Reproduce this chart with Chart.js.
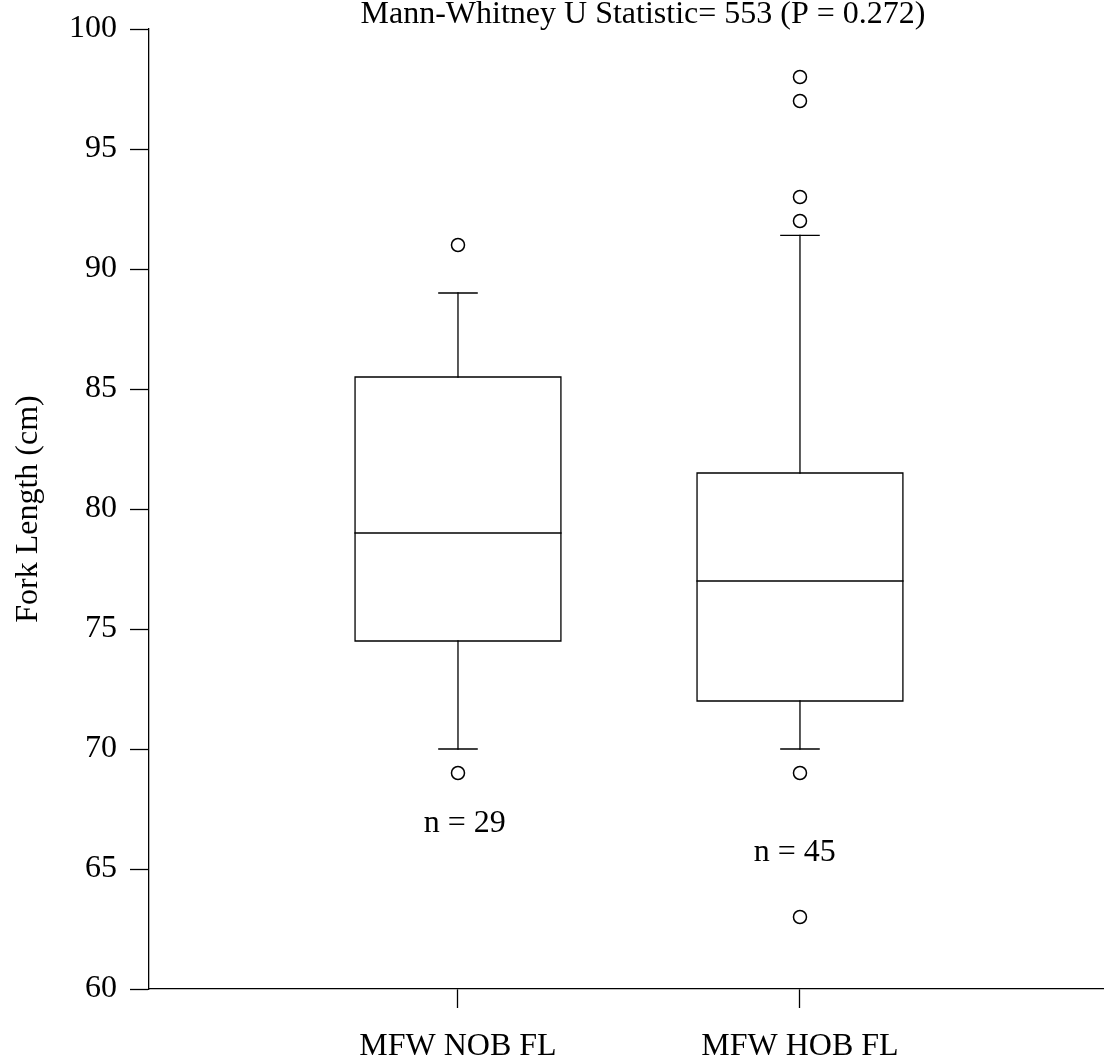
<!DOCTYPE html>
<html>
<head>
<meta charset="utf-8">
<script src="https://cdn.jsdelivr.net/npm/chart.js@4.4.0/dist/chart.umd.min.js"></script>
<style>
  html, body { margin: 0; padding: 0; background: #fff; overflow: hidden; }
  #wrap { width: 1104px; height: 1063px; }
  canvas { display: block; }
</style>
</head>
<body>
<div id="wrap"><canvas id="chart" width="1104" height="1063"></canvas></div>
<script>
// box plot summary
const categories = ['MFW NOB FL', 'MFW HOB FL'];
const catPos = [1, 2];
const whiskerLow = [70, 70];
const q1 = [74.5, 72];
const median = [79, 77];
const q3 = [85.5, 81.5];
const whiskerHigh = [89, 91.4];
const outliers = [[91, 69], [98, 97, 93, 92, 69, 63]];
const sampleSizes = [29, 45];
const yTicks = [60, 65, 70, 75, 80, 85, 90, 95, 100];
const titleText = 'Mann-Whitney U Statistic= 553 (P = 0.272)';
const yTitle = 'Fork Length (cm)';

const FONT = { family: "'Liberation Serif', 'Times New Roman', serif", size: 32 };
const INK = '#000';
const LW = 1.3;
const boxHalf = 0.301, capHalf = 0.056;
const nLabelAt = [[1.02, 66.9], [1.985, 65.7]];

function seg(points) {
  return {
    type: 'scatter', data: points, showLine: true, pointRadius: 0, pointHoverRadius: 0,
    borderColor: INK, borderWidth: LW, borderJoinStyle: 'miter', borderCapStyle: 'square', fill: false
  };
}

const datasets = [];
catPos.forEach(function(c, i) {
  datasets.push(seg([
    { x: c - boxHalf, y: q1[i] }, { x: c + boxHalf, y: q1[i] },
    { x: c + boxHalf, y: q3[i] }, { x: c - boxHalf, y: q3[i] }, { x: c - boxHalf, y: q1[i] }
  ]));
  datasets.push(seg([{ x: c - boxHalf, y: median[i] }, { x: c + boxHalf, y: median[i] }]));
  datasets.push(seg([{ x: c, y: q3[i] }, { x: c, y: whiskerHigh[i] }]));
  datasets.push(seg([{ x: c - capHalf, y: whiskerHigh[i] }, { x: c + capHalf, y: whiskerHigh[i] }]));
  datasets.push(seg([{ x: c, y: q1[i] }, { x: c, y: whiskerLow[i] }]));
  datasets.push(seg([{ x: c - capHalf, y: whiskerLow[i] }, { x: c + capHalf, y: whiskerLow[i] }]));
  datasets.push({
    type: 'scatter',
    data: outliers[i].map(function(v) { return { x: c, y: v }; }),
    pointRadius: 6.5, pointHoverRadius: 6.5, pointBorderWidth: 1.5,
    pointBackgroundColor: '#fff', pointBorderColor: INK, showLine: false
  });
});

const textPlugin = {
  id: 'texts',
  afterDraw(chart) {
    const ctx = chart.ctx, xs = chart.scales.x, ys = chart.scales.y;
    ctx.save();
    ctx.fillStyle = INK;
    ctx.font = FONT.size + 'px ' + FONT.family;
    ctx.textAlign = 'center';
    ctx.textBaseline = 'middle';
    ctx.fillText(titleText, 643, 15);
    sampleSizes.forEach(function(n, i) {
      ctx.fillText('n = ' + n, xs.getPixelForValue(nLabelAt[i][0]), ys.getPixelForValue(nLabelAt[i][1]));
    });
    ctx.restore();
  }
};

new Chart(document.getElementById('chart'), {
  type: 'scatter',
  data: { datasets: datasets },
  options: {
    responsive: false, animation: false, events: [],
    layout: { autoPadding: false, padding: { top: 29, right: 0, bottom: 0, left: 0 } },
    plugins: { legend: { display: false }, tooltip: { enabled: false }, title: { display: false } },
    scales: {
      x: {
        type: 'linear', min: 0.0965, max: 2.889,
        afterBuildTicks(s) { s.ticks = catPos.map(function(v) { return { value: v }; }); },
        afterFit(s) { s.height = 74; s.paddingLeft = 0; s.paddingRight = 0; },
        ticks: {
          color: INK, font: FONT, padding: 19, maxRotation: 0, autoSkip: false,
          callback: function(v) { const k = catPos.indexOf(v); return k >= 0 ? categories[k] : ''; }
        },
        grid: { drawOnChartArea: false, drawTicks: true, tickLength: 19, tickColor: INK, tickWidth: LW },
        border: { display: true, color: INK, width: LW }
      },
      y: {
        type: 'linear', min: 60, max: 100,
        afterBuildTicks(s) { s.ticks = yTicks.map(function(v) { return { value: v }; }); },
        afterFit(s) { s.width = 149; s.paddingTop = 0; s.paddingBottom = 0; },
        ticks: { color: INK, font: FONT, padding: 13 },
        grid: { drawOnChartArea: false, drawTicks: true, tickLength: 19, tickColor: INK, tickWidth: LW },
        border: { display: true, color: INK, width: LW },
        title: { display: true, text: yTitle, color: INK, font: FONT, padding: { top: 9, bottom: 0 } }
      }
    }
  },
  plugins: [textPlugin]
});
</script>
</body>
</html>
